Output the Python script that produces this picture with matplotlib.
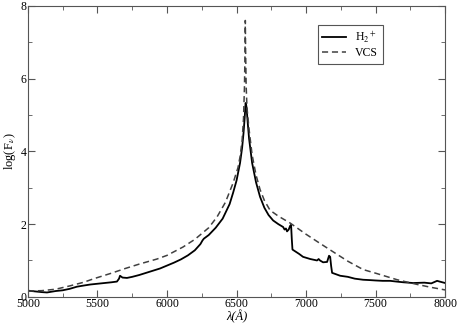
import matplotlib
matplotlib.use("Agg")
from matplotlib import pyplot as plt
from matplotlib.ticker import MultipleLocator

plt.rcParams['font.family'] = ['Liberation Serif', 'DejaVu Serif']
plt.rcParams['mathtext.fontset'] = 'stix'

# datos
lam_h2 = [5000, 5050, 5100, 5137, 5200, 5250, 5300, 5353, 5400, 5450, 5500, 5550,
          5600, 5640, 5655, 5662, 5680, 5712, 5750, 5800, 5850, 5900, 5950, 6000,
          6050, 6100, 6150, 6200, 6240, 6255, 6265, 6300, 6350, 6400, 6450, 6475,
          6500, 6525, 6540, 6550, 6558, 6565, 6568, 6572, 6580, 6590, 6612, 6640,
          6669, 6700, 6730, 6763, 6800, 6835, 6845, 6855, 6863, 6875, 6885, 6892,
          6897, 6902, 6950, 6978, 7030, 7079, 7090, 7100, 7122, 7151, 7165, 7173,
          7180, 7187, 7245, 7300, 7350, 7410, 7460, 7500, 7550, 7604, 7650, 7700,
          7770, 7850, 7900, 7942, 7960, 8000]
flux_h2 = [0.17, 0.15, 0.13, 0.12, 0.16, 0.18, 0.22, 0.28, 0.31, 0.34, 0.36, 0.38,
           0.40, 0.42, 0.50, 0.58, 0.53, 0.52, 0.55, 0.60, 0.66, 0.72, 0.78, 0.86,
           0.94, 1.03, 1.14, 1.28, 1.45, 1.55, 1.60, 1.70, 1.90, 2.15, 2.55, 2.86,
           3.20, 3.68, 4.10, 4.50, 4.90, 5.33, 5.30, 5.20, 4.80, 4.35, 3.68, 3.15,
           2.75, 2.45, 2.25, 2.10, 2.00, 1.92, 1.85, 1.88, 1.80, 1.85, 1.95, 1.98,
           1.60, 1.30, 1.18, 1.10, 1.04, 1.00, 1.04, 1.00, 0.95, 0.96, 1.13, 1.10,
           0.85, 0.66, 0.58, 0.55, 0.50, 0.47, 0.46, 0.45, 0.44, 0.44, 0.42, 0.40,
           0.38, 0.39, 0.37, 0.44, 0.42, 0.38]

lam_vcs = [5000, 5100, 5200, 5300, 5400, 5475, 5600, 5700, 5800, 5928, 6000, 6115,
           6200, 6300, 6360, 6420, 6475, 6510, 6525, 6540, 6550, 6557, 6561, 6563,
           6565, 6569, 6575, 6590, 6612, 6640, 6669, 6700, 6741, 6800, 6885, 7000,
           7100, 7173, 7300, 7410, 7500, 7655, 7800, 7900, 8000]
flux_vcs = [0.16, 0.17, 0.21, 0.30, 0.40, 0.50, 0.65, 0.78, 0.90, 1.04, 1.14, 1.37,
            1.58, 1.90, 2.20, 2.60, 3.13, 3.55, 3.85, 4.30, 4.90, 5.80, 6.80, 7.60,
            6.80, 5.80, 5.20, 4.60, 3.90, 3.35, 2.95, 2.65, 2.38, 2.22, 2.03, 1.72,
            1.47, 1.29, 0.98, 0.75, 0.65, 0.47, 0.34, 0.26, 0.19]

fig = plt.figure(figsize=(4.58, 3.28), dpi=100)
ax = fig.add_axes([0.061, 0.095, 0.911, 0.887])

ax.plot(lam_h2, flux_h2, color='black', lw=1.3, label=r'H$_2$$^+$')
ax.plot(lam_vcs, flux_vcs, color='#404040', lw=1.1, dashes=(4, 2.5), label='VCS')

ax.set_xlim(5000, 8000)
ax.set_ylim(0, 8)
ax.xaxis.set_major_locator(MultipleLocator(500))
ax.xaxis.set_minor_locator(MultipleLocator(250))
ax.yaxis.set_major_locator(MultipleLocator(2))
ax.yaxis.set_minor_locator(MultipleLocator(1))
ax.tick_params(which='both', direction='in', top=True, right=True,
               labelsize=8.5, color='#555555', pad=1)
ax.tick_params(which='major', length=5)
ax.tick_params(which='minor', length=3)
for s in ax.spines.values():
    s.set_color('#555555')

ax.set_xlabel('λ(Å)', fontsize=9, fontstyle='italic', labelpad=0)
ax.set_ylabel(r'log(F$_\nu$)', fontsize=9, labelpad=2)

leg = ax.legend(loc='upper left', bbox_to_anchor=(0.68, 0.955), fontsize=8.5,
                fancybox=False, framealpha=1, edgecolor='#555555',
                handlelength=2, borderpad=0.4, labelspacing=0.2)
leg.get_frame().set_linewidth(0.8)

plt.savefig('out.png', dpi=100)
